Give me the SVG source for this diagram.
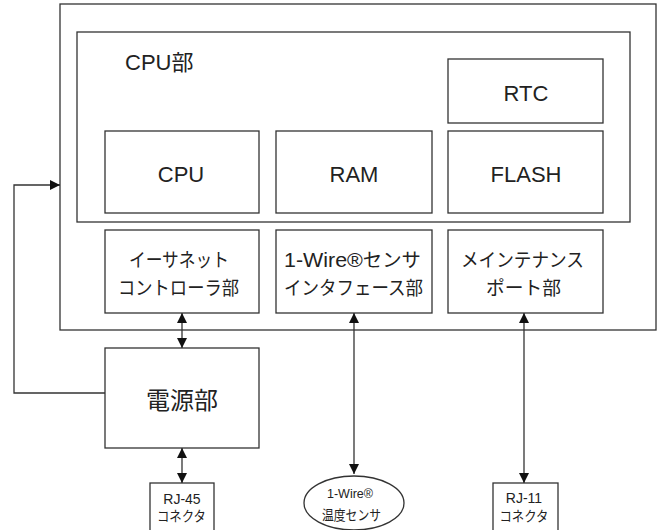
<svg xmlns="http://www.w3.org/2000/svg" width="659" height="530" viewBox="0 0 659 530">
<style>
.b{fill:#fff;stroke:#333;stroke-width:1.3}
.t{font-family:"Liberation Sans","Noto Sans CJK JP",sans-serif;fill:#222;text-anchor:middle}
.j{font-size:19px}
.s{font-size:14px}
.c{fill:none;stroke:#333;stroke-width:1.3}
</style>
<defs>
<marker id="ah" viewBox="0 0 10 10" refX="10" refY="5" markerWidth="10" markerHeight="10" markerUnits="userSpaceOnUse" orient="auto-start-reverse">
<path d="M0,0 L10,5 L0,10 z" fill="#111"/>
</marker>
</defs>
<rect width="659" height="530" fill="#fff"/>
<g id="outer"><rect class="b" x="60" y="4" width="596" height="326"/></g>
<g id="cpu-unit"><rect class="b" x="77" y="32" width="553" height="190"/>
<text class="t" x="125" y="70" font-size="22" style="text-anchor:start">CPU部</text></g>
<g id="rtc"><rect class="b" x="448" y="59" width="155" height="64"/><text class="t" x="526" y="101" font-size="22">RTC</text></g>
<g id="cpu"><rect class="b" x="105" y="131" width="154" height="82"/><text class="t" x="181" y="182" font-size="22">CPU</text></g>
<g id="ram"><rect class="b" x="276" y="131" width="156" height="82"/><text class="t" x="354" y="182" font-size="22">RAM</text></g>
<g id="flash"><rect class="b" x="448" y="131" width="155" height="82"/><text class="t" x="526" y="182" font-size="22">FLASH</text></g>
<g id="ethernet"><rect class="b" x="105" y="230" width="154" height="83"/>
<text class="t j" x="179" y="267" textLength="100" lengthAdjust="spacingAndGlyphs">イーサネット</text>
<text class="t j" x="178.5" y="295" textLength="121" lengthAdjust="spacingAndGlyphs">コントローラ部</text></g>
<g id="onewire-if"><rect class="b" x="276" y="230" width="156" height="83"/>
<text class="t j" x="352.5" y="267" textLength="137" lengthAdjust="spacingAndGlyphs"><tspan font-size="21">1-Wire®</tspan>センサ</text>
<text class="t j" x="353.5" y="295" textLength="139" lengthAdjust="spacingAndGlyphs">インタフェース部</text></g>
<g id="maint"><rect class="b" x="448" y="230" width="155" height="83"/>
<text class="t j" x="522.5" y="267" textLength="123" lengthAdjust="spacingAndGlyphs">メインテナンス</text>
<text class="t j" x="523.5" y="295" textLength="75" lengthAdjust="spacingAndGlyphs">ポート部</text></g>
<g id="power"><rect class="b" x="105" y="348" width="154" height="100"/><text class="t" x="182" y="409" font-size="24">電源部</text></g>
<g id="rj45"><rect class="b" x="150" y="483" width="64" height="50"/>
<text class="t s" x="182" y="504">RJ-45</text>
<text class="t s" x="181.5" y="521" textLength="49" lengthAdjust="spacingAndGlyphs">コネクタ</text></g>
<g id="sensor"><ellipse class="b" cx="354" cy="503" rx="50" ry="27"/>
<text class="t" x="350" y="498" font-size="12.5">1-Wire®</text>
<text class="t s" x="351.5" y="520" textLength="59" lengthAdjust="spacingAndGlyphs">温度センサ</text></g>
<g id="rj11"><rect class="b" x="493" y="483" width="65" height="50"/>
<text class="t s" x="524" y="503">RJ-11</text>
<text class="t s" x="524" y="521" textLength="49" lengthAdjust="spacingAndGlyphs">コネクタ</text></g>
<g id="connectors">
<path class="c" d="M182,313 V348" marker-start="url(#ah)" marker-end="url(#ah)"/>
<path class="c" d="M182,448 V483" marker-start="url(#ah)" marker-end="url(#ah)"/>
<path class="c" d="M354,313 V474" marker-start="url(#ah)" marker-end="url(#ah)"/>
<path class="c" d="M524,313 V483" marker-start="url(#ah)" marker-end="url(#ah)"/>
<path class="c" d="M105,393 H14 V185 H60" marker-end="url(#ah)"/>
</g>
</svg>
